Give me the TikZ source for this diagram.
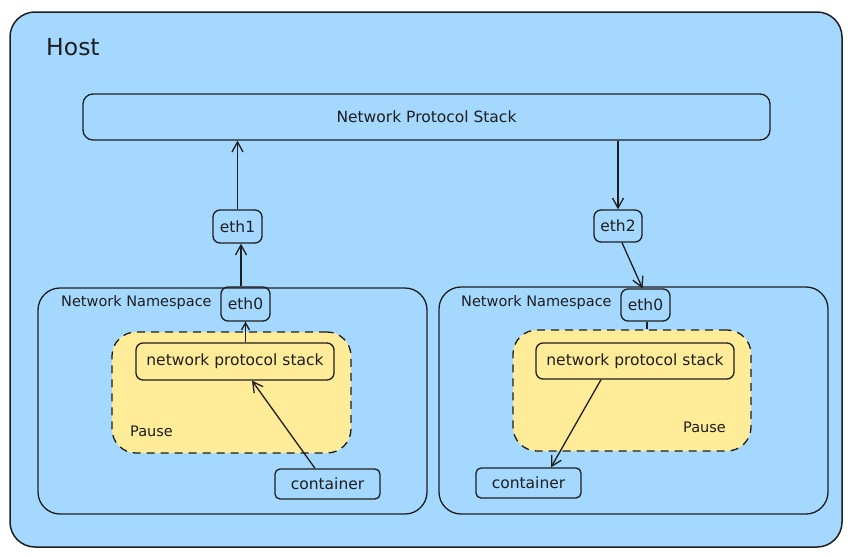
\documentclass[tikz,border=0pt]{standalone}
\usepackage{fontspec}
\setmainfont{DejaVu Sans}
\usetikzlibrary{arrows.meta}
\definecolor{hostblue}{HTML}{A5D8FF}
\definecolor{pauseyellow}{HTML}{FFEC99}
\definecolor{ink}{HTML}{1E1E1E}
\tikzset{
  box/.style={draw=ink, line width=1.3pt, rounded corners=7pt, inner sep=0pt, align=center, font=\fontsize{15.5}{18}\selectfont, text=ink},
  nsbox/.style={draw=ink, line width=1.3pt, rounded corners=22pt, fill=hostblue, inner sep=0pt},
  pausebox/.style={draw=ink, line width=1.3pt, rounded corners=24pt, fill=pauseyellow, inner sep=0pt, dash pattern=on 8pt off 6pt},
  lbl/.style={anchor=west, inner sep=0pt, font=\fontsize{14.5}{17}\selectfont, text=ink},
  conn/.style={draw=ink, line width=1.3pt, -{Straight Barb[length=10pt,width=11pt,line width=1.3pt]}},
  plain/.style={draw=ink, line width=1.3pt}
}
\begin{document}
\begin{tikzpicture}[x=1pt,y=-1pt]
\useasboundingbox[fill=white] (0,0) rectangle (852,557);
% host
\node[draw=ink, line width=1.5pt, rounded corners=25pt, fill=hostblue, inner sep=0pt, minimum width=832pt, minimum height=535pt] (host) at (426,279.5) {};
\node[lbl, font=\fontsize{23.5}{27}\selectfont] (hostlbl) at (46,47) {Host};
% top stack
\node[box, minimum width=687pt, minimum height=46pt, rounded corners=10pt] (nps) at (426.5,117) {Network Protocol Stack};
\node[box, minimum width=49pt, minimum height=33pt] (eth1) at (237.5,226.5) {eth1};
\node[box, minimum width=48pt, minimum height=32pt] (eth2) at (618,226) {eth2};
% namespaces
\node[nsbox, minimum width=389pt, minimum height=226pt] (lns) at (232.5,401) {};
\node[nsbox, minimum width=389pt, minimum height=227pt] (rns) at (633.5,400.5) {};
\node[lbl] (lnslbl) at (61,302) {Network Namespace};
\node[lbl] (rnslbl) at (461,302) {Network Namespace};
% pause
\node[pausebox, minimum width=239pt, minimum height=121pt] (lpause) at (231.5,392.5) {};
\node[pausebox, minimum width=238pt, minimum height=121pt] (rpause) at (632,390.5) {};
\node[lbl] (lpauselbl) at (130,431) {Pause};
\node[lbl] (rpauselbl) at (683,427) {Pause};
% eth0
\node[box, minimum width=49pt, minimum height=34pt] (leth0) at (245.5,304) {eth0};
\node[box, minimum width=49pt, minimum height=32pt] (reth0) at (645.5,305) {eth0};
% inner stacks
\node[box, minimum width=198pt, minimum height=37pt] (lnps) at (235,361.5) {network protocol stack};
\node[box, minimum width=198pt, minimum height=36pt] (rnps) at (635,361) {network protocol stack};
% containers
\node[box, minimum width=105pt, minimum height=30pt, rounded corners=5pt] (lcont) at (327.5,484) {container};
\node[box, minimum width=105pt, minimum height=30pt, rounded corners=5pt] (rcont) at (528.5,483) {container};
% connectors
\draw[conn] (eth1.north) -- (eth1.north |- nps.south);
\draw[conn] ([xshift=-4.5pt]leth0.north) -- ([xshift=-4.5pt]leth0.north |- eth1.south);
\draw[conn, -{Straight Barb[length=7pt,width=8pt,line width=1.3pt]}] (lnps.north -| leth0.south) -- (leth0.south);
\draw[conn] ([xshift=-12.5pt]lcont.north) -- ([xshift=17pt]lnps.south);
\draw[conn] (eth2.north |- nps.south) -- (eth2.north);
\draw[conn] ([xshift=4pt]eth2.south) -- ([xshift=-3pt]reth0.north);
\draw[plain] ([xshift=1.5pt]reth0.south) -- ([xshift=1.5pt]reth0.south |- rpause.north);
\draw[conn] ([xshift=-34pt]rnps.south) -- ([xshift=22.5pt]rcont.north);
\end{tikzpicture}
\end{document}
